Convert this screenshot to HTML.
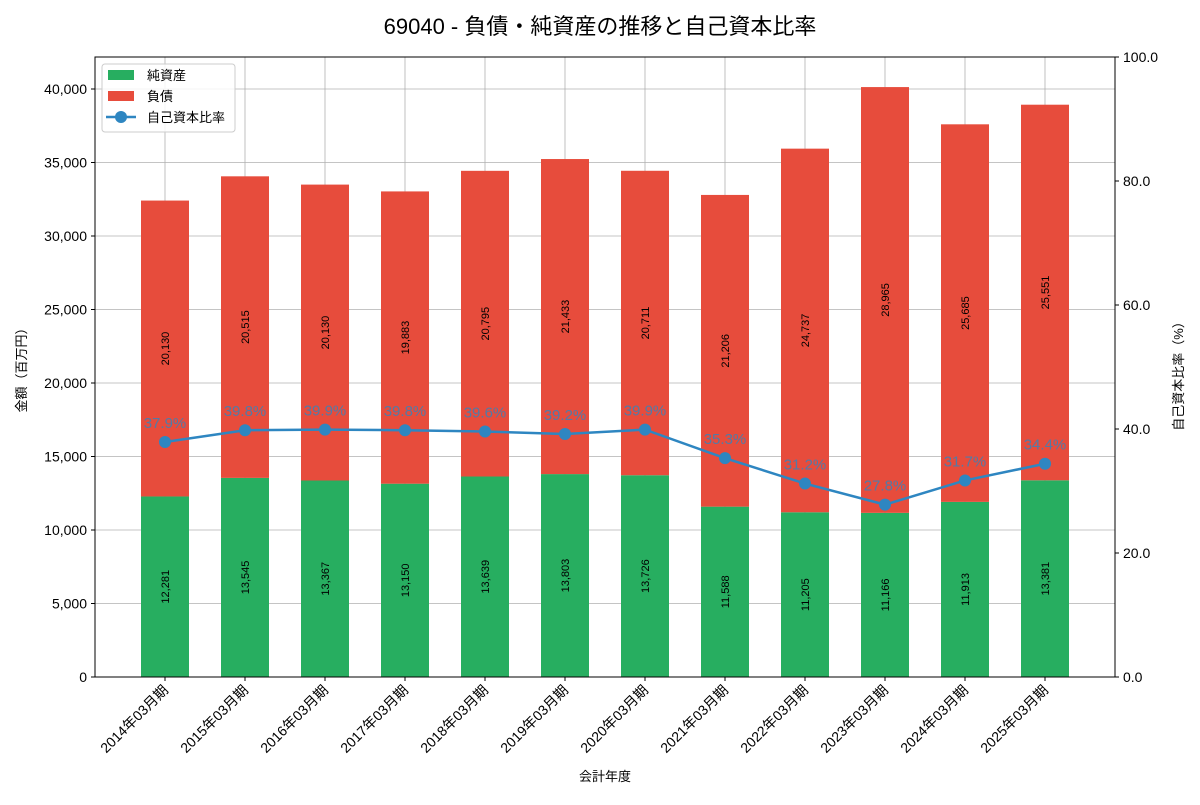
<!DOCTYPE html>
<html><head><meta charset="utf-8">
<style>
body{margin:0;background:#fff;font-family:"Liberation Sans","Noto Sans CJK JP",sans-serif;}
svg text{font-family:"Liberation Sans","Noto Sans CJK JP",sans-serif;}
</style></head><body>
<svg id="c" width="1200" height="800" xmlns="http://www.w3.org/2000/svg"></svg>
<script>
const categories=["2014年03月期","2015年03月期","2016年03月期","2017年03月期","2018年03月期","2019年03月期","2020年03月期","2021年03月期","2022年03月期","2023年03月期","2024年03月期","2025年03月期"];
const equity=[12281,13545,13367,13150,13639,13803,13726,11588,11205,11166,11913,13381];
const liabilities=[20130,20515,20130,19883,20795,21433,20711,21206,24737,28965,25685,25551];
const ratio=[37.9,39.8,39.9,39.8,39.6,39.2,39.9,35.3,31.2,27.8,31.7,34.4];
const leftTicks=[0,5000,10000,15000,20000,25000,30000,35000,40000];
const rightTicks=[0,20,40,60,80,100];

const svg=document.getElementById('c');
const NS='http://www.w3.org/2000/svg';
const L=95,R=1115,T=57,B=677;
const y=v=>B-v*(B-T)/42177;
const yr=v=>B-v*(B-T)/100;
const x=i=>L+70+i*80;
function el(tag,attrs,txt){const e=document.createElementNS(NS,tag);for(const k in attrs)e.setAttribute(k,attrs[k]);if(txt!==undefined)e.textContent=txt;svg.appendChild(e);return e;}
const fmt=v=>v.toLocaleString('en-US');

// grid
leftTicks.forEach(t=>{const g=el('line',{x1:L,x2:R,y1:y(t),y2:y(t),stroke:'#b0b0b0','stroke-width':0.8});
});
categories.forEach((c,i)=>{const g=el('line',{x1:x(i),x2:x(i),y1:T,y2:B,stroke:'#b0b0b0','stroke-width':0.8});
});

// bars
categories.forEach((c,i)=>{
  const b1=el('rect',{x:x(i)-24,width:48,y:y(equity[i]),height:B-y(equity[i]),fill:'#27ae60'});
  
  const top=equity[i]+liabilities[i];
  const b2=el('rect',{x:x(i)-24,width:48,y:y(top),height:y(equity[i])-y(top),fill:'#e74c3c'});
  
  const cy1=y(equity[i]/2), cy2=y(equity[i]+liabilities[i]/2);
  const t1=el('text',{x:x(i)+4,y:cy1,'font-size':11,'text-anchor':'middle',transform:`rotate(-90 ${x(i)+4} ${cy1})`},fmt(equity[i]));
  
  const t2=el('text',{x:x(i)+4,y:cy2,'font-size':11,'text-anchor':'middle',transform:`rotate(-90 ${x(i)+4} ${cy2})`},fmt(liabilities[i]));
  
});

// ratio line
const pts=ratio.map((r,i)=>x(i)+','+yr(r)).join(' ');
const pl=el('polyline',{points:pts,fill:'none',stroke:'#2e86c1','stroke-width':2.5});

ratio.forEach((r,i)=>{
  const c=el('circle',{cx:x(i),cy:yr(r),r:6,fill:'#2e86c1'});
  
  const t=el('text',{x:x(i),y:yr(r)-14,'font-size':15,'text-anchor':'middle',fill:'#2e86c1','fill-opacity':0.8},r.toFixed(1)+'%');
  
});

// frame
const fr=el('rect',{x:L,y:T,width:R-L,height:B-T,fill:'none',stroke:'#000','stroke-width':1});


// left ticks
leftTicks.forEach(t=>{
  el('line',{x1:L-4,x2:L,y1:y(t),y2:y(t),stroke:'#000'});
  const tx=el('text',{x:L-8,y:y(t)+5,'font-size':14,'text-anchor':'end'},fmt(t));
  
});
rightTicks.forEach(t=>{
  el('line',{x1:R,x2:R+4,y1:yr(t),y2:yr(t),stroke:'#000'});
  const tx=el('text',{x:R+8,y:yr(t)+5,'font-size':14},t.toFixed(1));
  
});
categories.forEach((c,i)=>{
  el('line',{x1:x(i),x2:x(i),y1:B,y2:B+4,stroke:'#000'});
  const tx=el('text',{x:x(i)+4,y:B+14,'font-size':14,'text-anchor':'end',transform:`rotate(-45 ${x(i)+4} ${B+14})`},c);
  
});

// titles
const tt=el('text',{x:600,y:34,'font-size':22,'text-anchor':'middle'},'69040 - 負債・純資産の推移と自己資本比率');

const xt=el('text',{x:605,y:781,'font-size':13,'text-anchor':'middle'},'会計年度');

const yt=el('text',{x:26,y:367,'font-size':13,'text-anchor':'middle',transform:'rotate(-90 26 367)'},'金額（百万円）');

const y2t=el('text',{x:1183,y:373,'font-size':13,'text-anchor':'middle',transform:'rotate(-90 1183 373)'},'自己資本比率（%）');


// legend
const lg=el('rect',{x:102,y:64,width:133,height:68,fill:'#fff','fill-opacity':0.85,stroke:'#ccc',rx:3});

const e1=el('rect',{x:108,y:70,width:26,height:10,fill:'#27ae60'});
const l1=el('text',{x:147,y:80,'font-size':13},'純資産');
const e2=el('rect',{x:108,y:91,width:26,height:10,fill:'#e74c3c'});
const l2=el('text',{x:147,y:101,'font-size':13},'負債');
const e3=el('line',{x1:106,x2:136,y1:117,y2:117,stroke:'#2e86c1','stroke-width':2.5});
const e4=el('circle',{cx:121,cy:117,r:6,fill:'#2e86c1'});
const l3=el('text',{x:147,y:122,'font-size':13},'自己資本比率');
</script>
</body></html>
